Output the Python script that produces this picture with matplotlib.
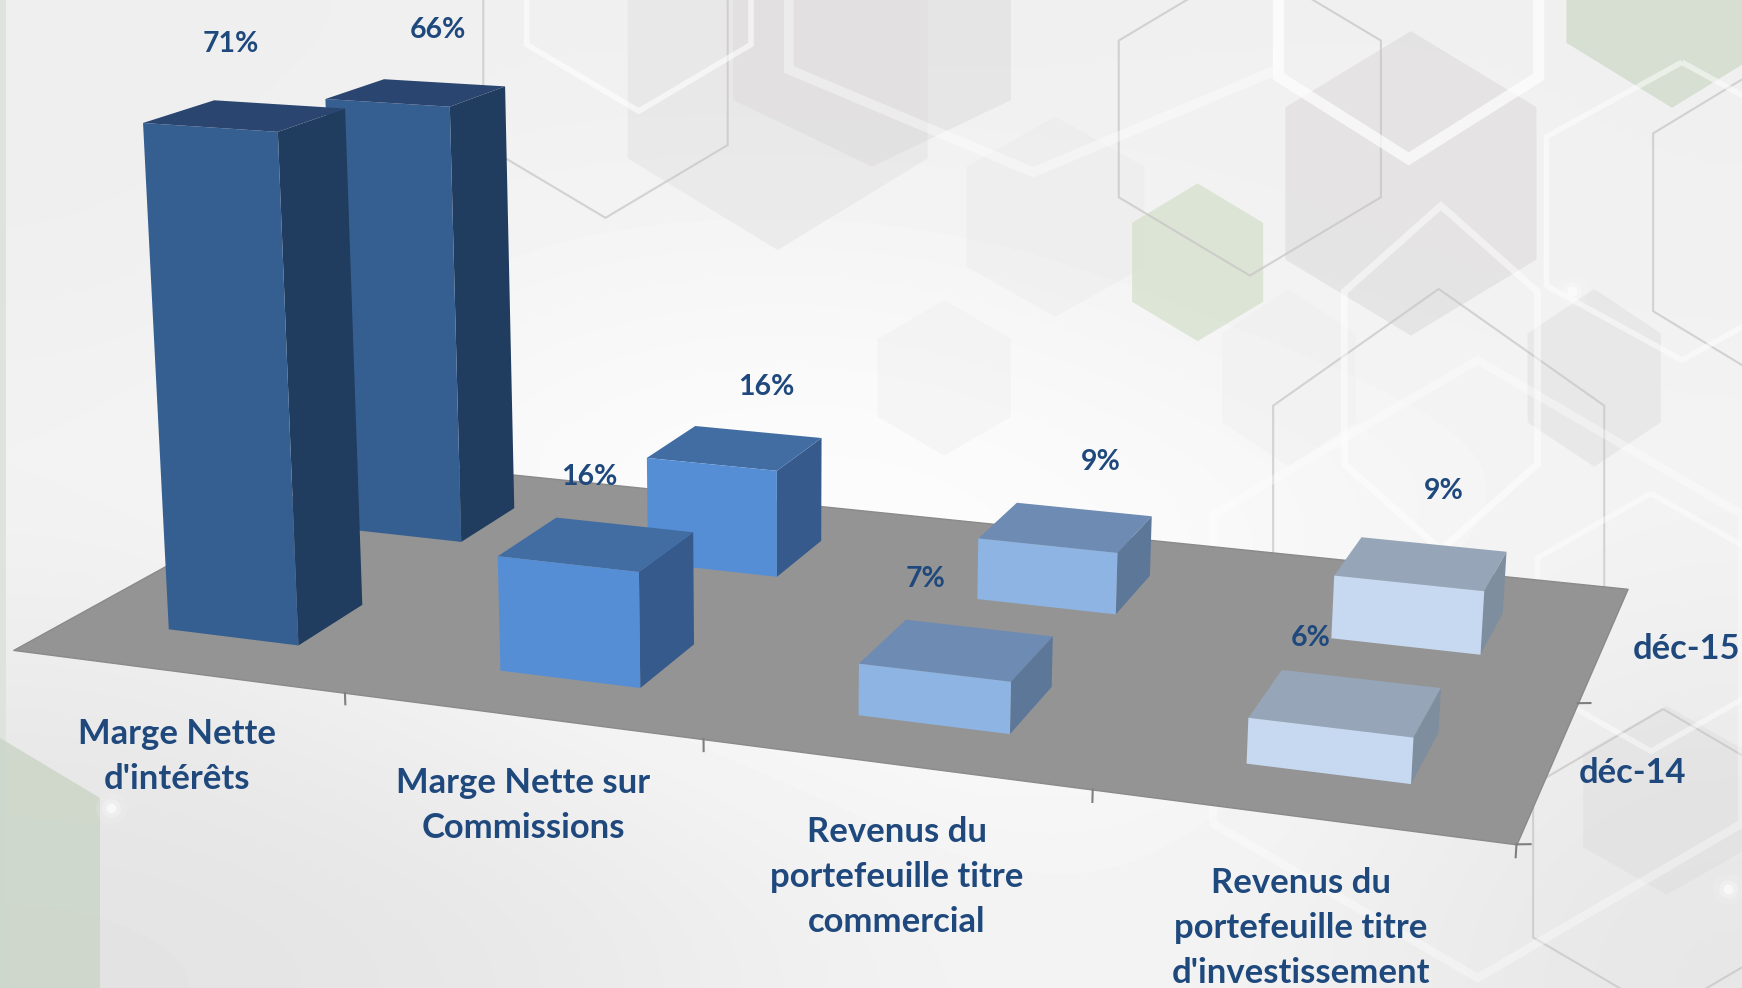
import numpy as np
import matplotlib
matplotlib.use("Agg")
import matplotlib.pyplot as plt
from matplotlib.patches import Polygon
from mpl_toolkits.mplot3d.art3d import Poly3DCollection

W, H = 1742, 988
K = W / 1568

# ---------- data ----------
categories = ["Marge Nette\nd'intérêts", "Marge Nette sur\nCommissions",
              "Revenus du\nportefeuille titre\ncommercial",
              "Revenus du\nportefeuille titre\nd'investissement"]
series = ["déc-14", "déc-15"]
values_dec14 = [71, 16, 7, 6]
values_dec15 = [66, 16, 9, 9]

# ---------- styles ----------
face_colors = ["#365F91", "#558ED5", "#8DB4E2", "#C6D9F1"]
top_colors = ["#2A4670", "#426DA3", "#6E8CB3", "#96A6B8"]
side_colors = ["#203C5E", "#365A8B", "#5D7799", "#7F8E9E"]
text_color = "#1F497D"
FONT = ["Lato", "Open Sans", "DejaVu Sans"]
cat_label_pos = [(159, 681), (471, 725), (807, 789), (1171, 835)]
ser_label_pos = [(1469, 696), (1518, 584)]
val14_pos = [(208, 40), (530, 429), (833, 521), (1180, 574)]
val15_pos = [(394, 27), (690, 348), (991, 416), (1300, 442)]
bar_wx, bar_wy = 0.40, 0.37
bar_dx, bar_dy = 0.005, -0.022

# camera calibration (reference pixel positions of the floor, shrunk coords)
floor_px = {"FL": (12, 585), "FR": (1365, 760), "BR": (1465, 530), "BL": (324, 413)}
vertical_vp = (700, 11340)
height_t = -0.0411

fig = plt.figure(figsize=(W / 100, H / 100), dpi=100, facecolor="white")

# ---------- background ----------
bg = fig.add_axes([0, 0, 1, 1], zorder=0)
bg.set_xlim(0, 1568)
bg.set_ylim(889, 0)
bg.axis("off")
grey = np.array([
    [0xee, 0xf0, 0xef, 0xf0, 0xf0],
    [0xef, 0xf6, 0xf8, 0xf2, 0xf0],
    [0xf4, 0xfc, 0xfe, 0xfa, 0xf4],
    [0xea, 0xf4, 0xfb, 0xfa, 0xec],
    [0xe3, 0xe7, 0xf2, 0xf4, 0xe6]]) / 255
bg.imshow(grey, cmap="gray", vmin=0, vmax=1, extent=(0, 1568, 889, 0),
          aspect="auto", interpolation="bicubic", zorder=0)
bg.axvspan(0, 5, color="#dfe3de", lw=0, zorder=0.5)


def hexagon(cx, cy, w, h, sh=None):
    sh = h / 2 if sh is None else sh
    return [(cx, cy - h), (cx + w, cy - sh), (cx + w, cy + sh),
            (cx, cy + h), (cx - w, cy + sh), (cx - w, cy - sh)]


filled = [  # cx, cy, w, h, shoulder, colour, alpha
    (700, 60, 135, 165, None, "#d9d6d6", 0.3),
    (785, 30, 125, 120, None, "#d5d3d3", 0.35),
    (1270, 165, 113, 137, None, "#d3d0d0", 0.4),
    (950, 195, 80, 90, None, "#e0dede", 0.2),
    (850, 340, 60, 70, None, "#efefef", 0.45),
    (1435, 340, 60, 80, None, "#d8d6d6", 0.35),
    (1500, 720, 75, 85, None, "#d8d6d6", 0.3),
    (1078, 236, 59, 71, None, "#d3dfc9", 0.7),
    (1505, -20, 95, 117, None, "#c8d6c2", 0.65),
    (-20, 850, 110, 198, 132, "#ccd6c8", 0.85),
    (1160, 340, 60, 80, None, "#ececec", 0.3),
]
for cx, cy, w, h, sh, col, al in filled:
    bg.add_patch(Polygon(hexagon(cx, cy, w, h, sh), closed=True, fc=col, ec="none",
                         alpha=al, zorder=1))

thin = [  # cx, cy, w, h
    (545, 65, 110, 131), (1125, 107, 118, 141), (1295, 470, 149, 210),
    (1620, 200, 132, 160), (1497, 775, 117, 137),
]
for cx, cy, w, h in thin:
    bg.add_patch(Polygon(hexagon(cx, cy, w, h), closed=True, fc="none", ec="#c6c3c3",
                         lw=1.5, alpha=0.7, zorder=2))

white = [  # cx, cy, w, h, lw, alpha
    (575, -20, 101, 120, 4, 0.6), (1268, -5, 117, 148, 8, 0.7),
    (930, -30, 220, 185, 7, 0.4), (1297, 340, 87, 155, 5, 0.5),
    (1514, 190, 122, 134, 4, 0.5), (1486, 560, 102, 116, 4, 0.45),
    (1330, 602, 238, 278, 6, 0.35),
]
for cx, cy, w, h, lw, al in white:
    bg.add_patch(Polygon(hexagon(cx, cy, w, h), closed=True, fc="none", ec="#ffffff",
                         lw=lw, alpha=al, zorder=3))

glints = [(100, 727), (1415, 262), (1555, 800)]
for gx, gy in glints:
    for size, al in ((500, 0.12), (180, 0.25), (50, 0.6)):
        bg.scatter([gx], [gy], s=size, color="white", alpha=al, lw=0, zorder=4)

# ---------- camera: floor homography + vertical vanishing point ----------
src = [(0, 0), (4, 0), (4, 2), (0, 2)]
dst = [np.array(floor_px[k]) * K for k in ("FL", "FR", "BR", "BL")]
A, b = [], []
for (x, y), (u, v) in zip(src, dst):
    A.append([x, y, 1, 0, 0, 0, -u * x, -u * y])
    A.append([0, 0, 0, x, y, 1, -v * x, -v * y])
    b += [u, v]
sol = np.linalg.solve(np.array(A, float), np.array(b, float))
Hm = np.array([[sol[0], sol[1], sol[2]], [sol[3], sol[4], sol[5]], [sol[6], sol[7], 1.0]])
w_ref = Hm[2] @ np.array([0.5 + bar_wx / 2, 0.5 - bar_wy / 2, 1.0])
s = height_t * w_ref / values_dec14[0]
vp = np.array(vertical_vp) * K
P = np.array([[Hm[0, 0], Hm[0, 1], s * vp[0], Hm[0, 2]],
              [Hm[1, 0], Hm[1, 1], s * vp[1], Hm[1, 2]],
              [Hm[2, 0], Hm[2, 1], s, Hm[2, 2]]])

ax = fig.add_axes([0, -(W - H) / 2 / H, 1, W / H], projection="3d",
                  computed_zorder=False, zorder=1)
ax.set_axis_off()
ax.patch.set_alpha(0)


def camera():
    inv = ax.transData.inverted()
    o, xe, ye = inv.transform([[0, H], [W, H], [0, 0]])
    ax_ = (xe[0] - o[0]) / W
    ay_ = (ye[1] - o[1]) / H
    m = np.zeros((4, 4))
    m[0] = ax_ * P[0] + o[0] * P[2]
    m[1] = ay_ * P[1] + o[1] * P[2]
    m[2] = [-0.3, 1.0, -0.01, 0.0]
    m[3] = P[2]
    return m


ax.get_proj = camera

# ---------- floor ----------
ax.add_collection3d(Poly3DCollection(
    [[(0, 0, 0), (4, 0, 0), (4, 2, 0), (0, 2, 0)]], facecolors="#949494",
    edgecolors="#8a8a8a", linewidths=1.0, zorder=1))
for i in range(5):
    ax.plot3D([i, i], [0, 0], [0, -1.6], color="#7f7f7f", lw=1.5, zorder=1)
for j in range(3):
    ax.plot3D([4, 4.03], [j, j + 0.012], [0, 0], color="#7f7f7f", lw=1.5, zorder=1)

# ---------- bars ----------
transparent = (0, 0, 0, 0)


def bars(row, values, zo):
    for i, hv in enumerate(values):
        cols = [transparent, top_colors[i], face_colors[i], transparent,
                transparent, side_colors[i]]
        ax.bar3d([i + 0.5 - bar_wx / 2 + bar_dx], [row + 0.5 - bar_wy / 2 + bar_dy], [0],
                 bar_wx, bar_wy, hv, color=cols, shade=False, zorder=zo + i * 0.01)


bars(1, values_dec15, 2)
bars(0, values_dec14, 3)

# ---------- texts ----------
def put(px, py, txt, size):
    fig.text(px * K / W, 1 - py * K / H, txt, ha="center", va="center", ma="center",
             color=text_color, fontsize=size, fontweight="bold", family=FONT,
             linespacing=1.5, zorder=5)


for pos, txt in zip(cat_label_pos, categories):
    put(pos[0], pos[1], txt, 24.9)
for pos, txt in zip(ser_label_pos, series):
    put(pos[0], pos[1], txt, 24.8)
for pos, v in zip(val14_pos, values_dec14):
    put(pos[0], pos[1], f"{v}%", 20.4)
for pos, v in zip(val15_pos, values_dec15):
    put(pos[0], pos[1], f"{v}%", 20.4)

fig.savefig("out.png", dpi=100)
